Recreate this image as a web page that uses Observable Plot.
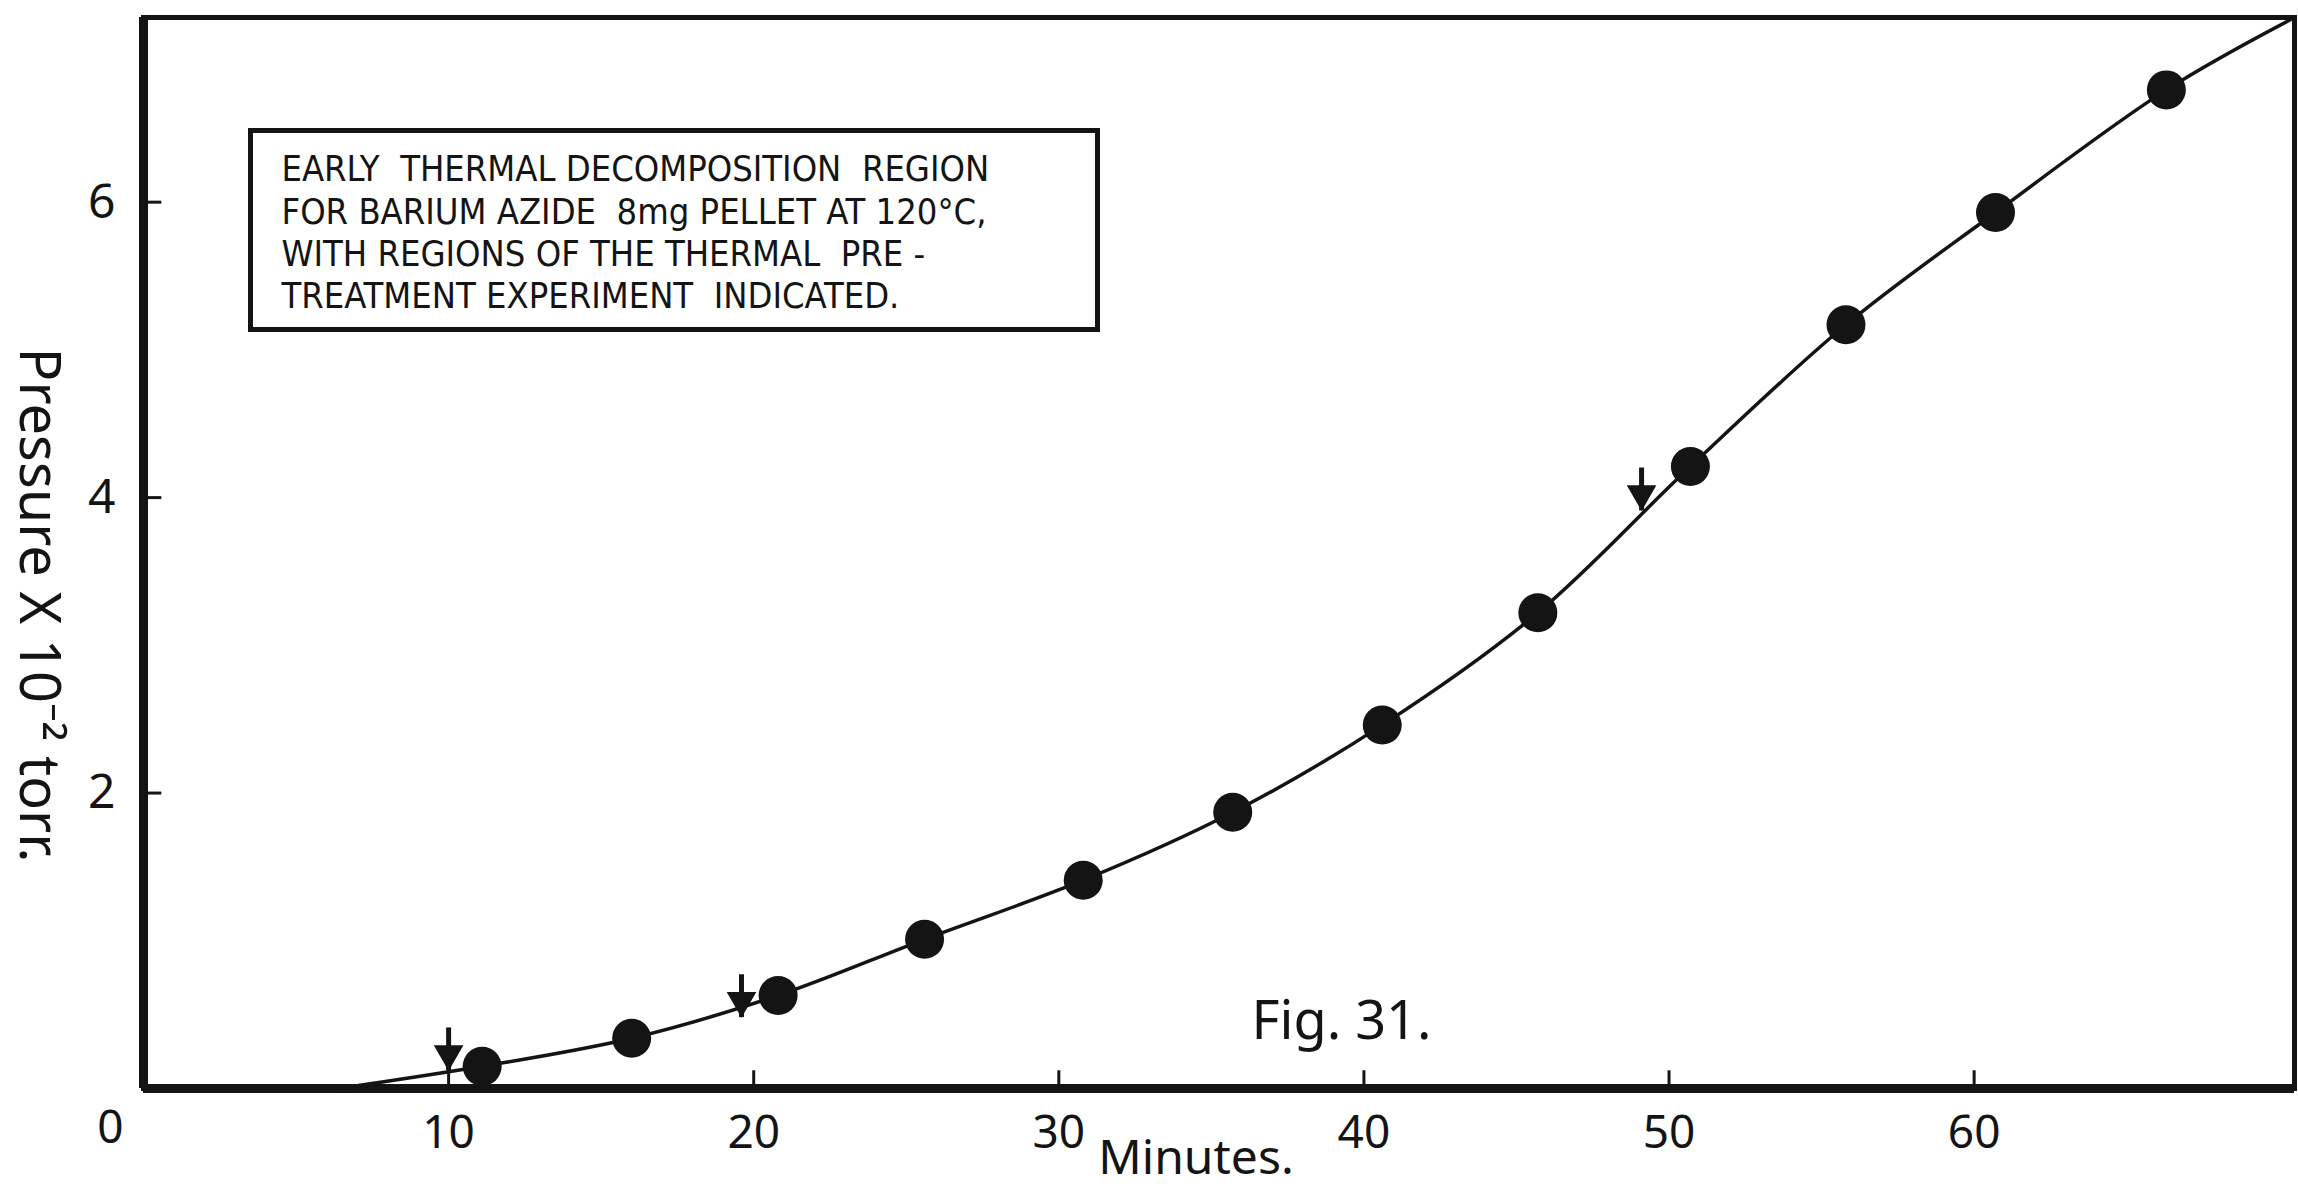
<!DOCTYPE html>
<html><head><meta charset="utf-8">
<script src="https://cdn.jsdelivr.net/npm/d3@7"></script>
<script src="https://cdn.jsdelivr.net/npm/@observablehq/plot@0.6"></script>
<style>html,body{margin:0;padding:0;background:#fff;}</style>
</head><body><div id="chart"></div>
<script>
// Measured points (minutes, pressure x10^-2 torr)
const minutes  = [11.1, 16.0, 20.8, 25.6, 30.8, 35.7, 40.6, 45.7, 50.7, 55.8, 60.7, 66.3];
const pressure = [0.15, 0.34, 0.63, 1.01, 1.41, 1.87, 2.46, 3.22, 4.21, 5.17, 5.93, 6.76];
// Drawn curve: leaves the axis, runs through the points, ends at the top-right corner
const curveMinutes  = [6.4, ...minutes, 70.5];
const curvePressure = [0.0, ...pressure, 7.25];
// Arrows marking the thermal pre-treatment regions (tip positions)
const arrowMinutes  = [10.0, 19.6, 49.1];
const arrowPressure = [0.12, 0.48, 3.91];
// Axes
const xTicks = [10, 20, 30, 40, 50, 60];
const yTicks = [2, 4, 6];
const xDomain = [0, 70.5];
const yDomain = [0, 7.25];
// Texts
const noteLines = [
  "EARLY\u00a0 THERMAL DECOMPOSITION\u00a0 REGION",
  "FOR BARIUM AZIDE\u00a0 8mg PELLET AT 120°C,",
  "WITH REGIONS OF THE THERMAL\u00a0 PRE -",
  "TREATMENT EXPERIMENT\u00a0 INDICATED."
];
const figLabel = "Fig. 31.";
const xTitle = "Minutes.";
const yTitle = "Pressure X 10⁻² torr.";

const points = minutes.map((m, i) => ({m, p: pressure[i]}));
const curve = curveMinutes.map((m, i) => ({m, p: curvePressure[i]}));
const arrows = arrowMinutes.map((m, i) => ({m, p: arrowPressure[i]}));

const ink = "#141414";
const digitFont = "'Noto Sans', 'Open Sans', sans-serif";

const chart = Plot.plot({
  width: 2298,
  height: 1195,
  marginLeft: 143,
  marginRight: 4,
  marginTop: 17,
  marginBottom: 107,
  style: {fontFamily: digitFont, fontSize: "46px", color: ink, background: "#fff"},
  x: {domain: xDomain},
  y: {domain: yDomain},
  marks: [
    // frame
    Plot.frame({stroke: ink, strokeWidth: 5}),
    Plot.ruleX([0], {stroke: ink, strokeWidth: 9}),
    Plot.ruleY([0], {stroke: ink, strokeWidth: 9}),
    // inward ticks
    Plot.ruleX(xTicks, {y1: 0, y2: 0.12, stroke: ink, strokeWidth: 3}),
    Plot.ruleY(yTicks, {x1: 0, x2: 0.6, stroke: ink, strokeWidth: 3}),
    // tick labels
    Plot.axisX({ticks: xTicks, tickSize: 0, tickPadding: 27, label: null, fontSize: 46}),
    Plot.axisY({ticks: yTicks, tickSize: 0, tickPadding: 28, label: null, fontSize: 48}),
    Plot.text([0], {x: 0, y: 0, text: () => "0", dx: -33, dy: 40, fontSize: 46}),
    // axis titles
    Plot.text([xTitle], {text: d => d, frameAnchor: "bottom", textAnchor: "middle", lineAnchor: "middle",
      dx: -23, dy: 70, fontSize: 48}),
    Plot.text([yTitle], {text: d => d, frameAnchor: "left", textAnchor: "middle", lineAnchor: "middle",
      rotate: 90, dx: -106, dy: 52, fontSize: 56}),
    // note box
    Plot.frame({stroke: ink, strokeWidth: 5, insetLeft: 107, insetTop: 113, insetRight: 1197, insetBottom: 759}),
    Plot.text([noteLines.join("\n")], {text: d => d, frameAnchor: "top-left", textAnchor: "start", lineAnchor: "top",
      dx: 138, dy: 134, fontSize: 36, lineHeight: 1.17,
      fontFamily: "'DejaVu Sans Condensed', 'Liberation Sans Narrow', 'DejaVu Sans', sans-serif"}),
    // figure label
    Plot.text([figLabel], {text: d => d, frameAnchor: "top-left", textAnchor: "middle", lineAnchor: "middle",
      dx: 1198, dy: 1004, fontSize: 54}),
    // curve and points
    Plot.line(curve, {x: "m", y: "p", curve: "catmull-rom", stroke: ink, strokeWidth: 3.5}),
    Plot.dot(points, {x: "m", y: "p", r: 19.5, fill: ink, stroke: "none"}),
    // arrows
    Plot.ruleX(arrows, {x: "m", y1: "p", y2: d => d.p + 0.29, stroke: ink, strokeWidth: 5}),
    Plot.dot(arrows, {x: "m", y: "p", symbol: "triangle", rotate: 180, r: 11, dy: -17, fill: ink, stroke: "none"})
  ]
});
document.getElementById("chart").appendChild(chart);
</script>
</body></html>
